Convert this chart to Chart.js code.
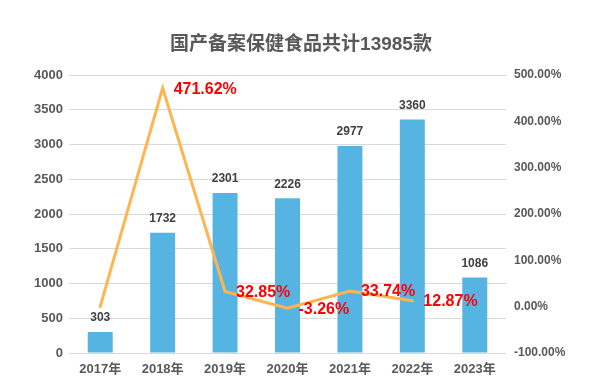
<!DOCTYPE html>
<html>
<head>
<meta charset="utf-8">
<script src="https://cdn.jsdelivr.net/npm/chart.js@4/dist/chart.umd.min.js"></script>
<style>
  html, body { margin: 0; padding: 0; background: #fff; }
  #wrap { width: 597px; height: 385px; }
</style>
</head>
<body>
<div id="wrap"><canvas id="chart" width="597" height="385"></canvas></div>
<script>
// datos
const years = ['2017年', '2018年', '2019年', '2020年', '2021年', '2022年', '2023年'];
const counts = [303, 1732, 2301, 2226, 2977, 3360, 1086];
const growth = [0, 471.62, 32.85, -3.26, 33.74, 12.87, null];
const growthLabels = ['', '471.62%', '32.85%', '-3.26%', '33.74%', '12.87%', ''];
const titleText = '国产备案保健食品共计13985款';

const FONT = '"Liberation Sans", Arial, "Noto Sans CJK SC", sans-serif';
const GRAY = '#595959';

// etiquetas de datos y título
const labelsPlugin = {
    id: 'labelsPlugin',
    afterDraw(chart) {
        const c = chart.ctx;
        c.save();
        c.fillStyle = GRAY;
        c.font = 'bold 19px ' + FONT;
        c.textAlign = 'center';
        c.textBaseline = 'middle';
        c.fillText(titleText, 301, 45);

        const bars = chart.getDatasetMeta(0).data;
        c.font = 'bold 12px ' + FONT;
        c.fillStyle = '#404040';
        bars.forEach((el, i) => {
            c.fillText(String(counts[i]), el.x, el.y - 14);
        });

        const pts = chart.getDatasetMeta(1).data;
        c.font = 'bold 16px ' + FONT;
        c.fillStyle = '#ff0000';
        c.textAlign = 'left';
        pts.forEach((el, i) => {
            if (!growthLabels[i]) return;
            c.fillText(growthLabels[i], el.x + 11, el.y + 1);
        });
        c.restore();
    }
};

const ctx = document.getElementById('chart').getContext('2d');
const chart = new Chart(ctx, {
    data: {
        labels: years,
        datasets: [{
            type: 'bar',
            data: counts,
            backgroundColor: '#56b4e3',
            barPercentage: 0.4,
            categoryPercentage: 1,
            yAxisID: 'y',
            order: 2
        }, {
            type: 'line',
            data: growth,
            borderColor: '#ffb54f',
            borderWidth: 3,
            pointRadius: 0,
            tension: 0,
            borderCapStyle: 'round',
            yAxisID: 'y1',
            order: 1
        }]
    },
    options: {
        responsive: false,
        animation: false,
        layout: { padding: { top: 75, right: 0, left: 0, bottom: 0 } },
        plugins: {
            legend: { display: false },
            tooltip: { enabled: false }
        },
        scales: {
            x: {
                grid: { display: false },
                border: { display: false },
                ticks: {
                    color: GRAY,
                    font: { family: FONT, size: 13, weight: 'bold' },
                    padding: 1,
                    maxRotation: 0
                },
                afterFit(s) { s.height = 32; }
            },
            y: {
                position: 'left',
                min: 0,
                max: 4000,
                ticks: {
                    stepSize: 500,
                    color: GRAY,
                    font: { family: FONT, size: 13, weight: 'bold' },
                    padding: 6,
                    callback: v => String(v)
                },
                grid: { color: '#d9d9d9', lineWidth: 1, drawTicks: false },
                border: { display: false },
                afterFit(s) { s.width = 69; }
            },
            y1: {
                position: 'right',
                min: -100,
                max: 500,
                ticks: {
                    stepSize: 100,
                    color: GRAY,
                    font: { family: FONT, size: 12, weight: 'bold' },
                    padding: 8,
                    callback: v => v.toFixed(2) + '%'
                },
                grid: { display: false, drawTicks: false },
                border: { display: false },
                afterFit(s) { s.width = 91; }
            }
        }
    },
    plugins: [labelsPlugin]
});
</script>
</body>
</html>
